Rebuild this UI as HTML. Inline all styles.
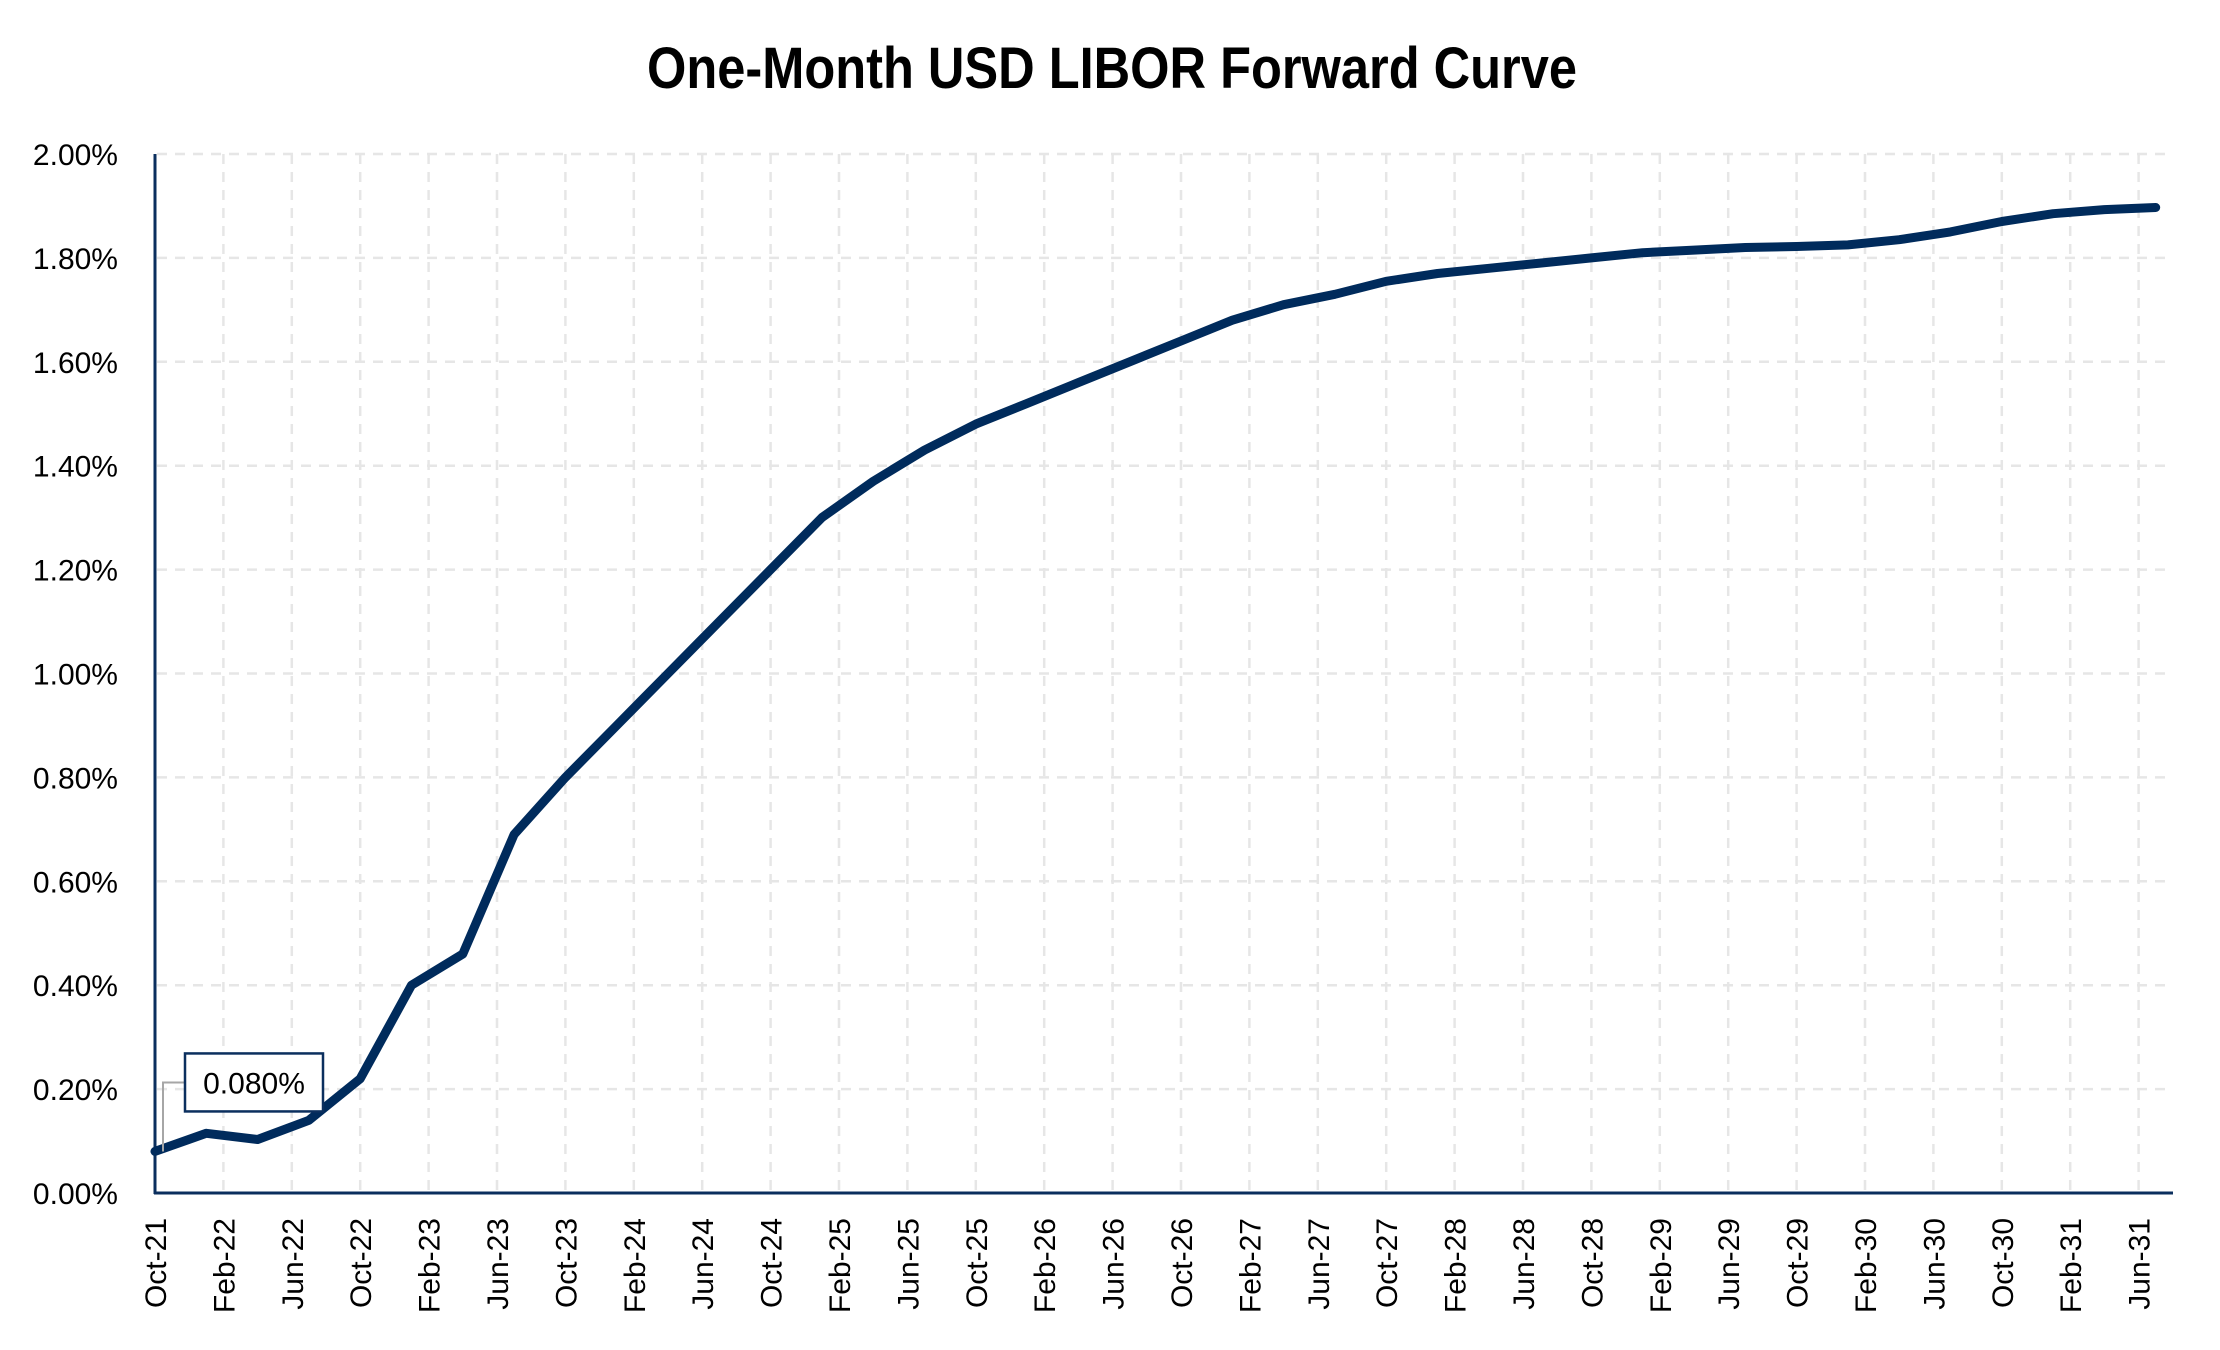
<!DOCTYPE html>
<html><head><meta charset="utf-8"><style>
html,body{margin:0;padding:0;background:#fff;}
svg{display:block;font-family:"Liberation Sans",Arial,sans-serif;}
</style></head><body>
<svg id="chart" width="2220" height="1350" viewBox="0 0 2220 1350" xmlns="http://www.w3.org/2000/svg">
<rect width="2220" height="1350" fill="#fff"/>
<text x="1112" y="88" text-anchor="middle" font-size="58" font-weight="bold" textLength="930" lengthAdjust="spacingAndGlyphs" fill="#000">One-Month USD LIBOR Forward Curve</text>
<g id="grid"></g>
<g id="yticks"></g>
<g id="xticks"></g>
<line x1="155" y1="154" x2="155" y2="1194" stroke="#0b2f5e" stroke-width="3"/>
<line x1="154" y1="1193" x2="2173" y2="1193" stroke="#0b2f5e" stroke-width="3"/>
<path id="series" fill="none" stroke="#002b5c" stroke-width="9" stroke-linejoin="round" stroke-linecap="round"/>
<g id="label"></g>
</svg>
<script>
const monthIdx = [0,3,6,9,12,15,18,21,24,27,30,33,36,39,42,45,48,51,54,57,60,63,66,69,72,75,78,81,84,87,90,93,96,99,102,105,108,111,114,117];
const rates = [0.08,0.115,0.103,0.14,0.22,0.40,0.46,0.69,0.80,0.90,1.00,1.10,1.20,1.30,1.37,1.43,1.48,1.52,1.56,1.60,1.64,1.68,1.71,1.73,1.755,1.77,1.78,1.79,1.80,1.81,1.815,1.82,1.822,1.825,1.835,1.85,1.87,1.885,1.893,1.897];
const yTicks = [0,0.2,0.4,0.6,0.8,1.0,1.2,1.4,1.6,1.8,2.0];
const xTickLabels = ["Oct-21","Feb-22","Jun-22","Oct-22","Feb-23","Jun-23","Oct-23","Feb-24","Jun-24","Oct-24","Feb-25","Jun-25","Oct-25","Feb-26","Jun-26","Oct-26","Feb-27","Jun-27","Oct-27","Feb-28","Jun-28","Oct-28","Feb-29","Jun-29","Oct-29","Feb-30","Jun-30","Oct-30","Feb-31","Jun-31"];
const NS="http://www.w3.org/2000/svg";
const x0=155, pxPerMonth=17.1, yBase=1193, yTop=154, yMax=2.0;
function X(m){return x0+m*pxPerMonth;}
function Y(v){return yBase-(v/yMax)*(yBase-yTop);}
function mk(tag,attrs,parent){const e=document.createElementNS(NS,tag);for(const k in attrs)e.setAttribute(k,attrs[k]);parent.appendChild(e);return e;}
const grid=document.getElementById('grid'), yt=document.getElementById('yticks'), xt=document.getElementById('xticks');
yTicks.forEach(v=>{
  const l=mk('line',{x1:157,x2:2173,y1:Y(v),y2:Y(v),stroke:'#e6e6e6','stroke-width':2.5,'stroke-dasharray':'10 8'},grid);
  
  
  const t=mk('text',{x:118,y:Y(v)+11,'text-anchor':'end','font-size':30,fill:'#000'},yt);
  
  
  t.textContent=v.toFixed(2)+'%';
});
xTickLabels.forEach((s,i)=>{
  const x=X(i*4);
  if(i>0){
    const l=mk('line',{x1:x,x2:x,y1:154,y2:1193,stroke:'#e6e6e6','stroke-width':2.5,'stroke-dasharray':'10 8'},grid);
    
    
  }
  const t=mk('text',{x:0,y:0,'text-anchor':'end','font-size':30,fill:'#000',transform:`translate(${x+11},1218) rotate(-90)`},xt);
  
  
  t.textContent=s;
});
let d='';
monthIdx.forEach((m,i)=>{d+=(i?'L':'M')+X(m).toFixed(1)+' '+Y(rates[i]).toFixed(1)+' ';});
document.getElementById('series').setAttribute('d',d);
const lg=document.getElementById('label');
const px=X(monthIdx[0]), py=Y(rates[0]);
const ll=mk('polyline',{points:`${px+8},${py} ${px+8},${py-69} ${px+30},${py-69}`,fill:'none',stroke:'#a6a6a6','stroke-width':2},lg);


const box=mk('rect',{x:px+30,y:py-98,width:138,height:58,fill:'#fff',stroke:'#0b2f5e','stroke-width':2.5},lg);


const lt=mk('text',{x:px+99,y:py-58,'text-anchor':'middle','font-size':30,fill:'#000'},lg);


lt.textContent=rates[0].toFixed(3)+'%';
</script>
</body></html>
